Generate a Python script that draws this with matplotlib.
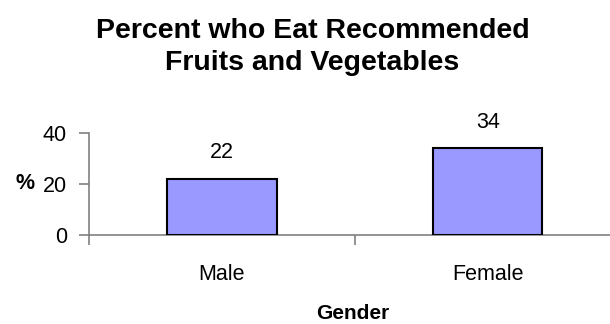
import matplotlib.pyplot as plt

# Datos
generos = ['Male', 'Female']
porcentajes = [22, 34]
yticks = [0, 20, 40]

plt.rcParams['font.family'] = ['Liberation Sans', 'DejaVu Sans']

fig = plt.figure(figsize=(6.1, 3.24), dpi=100)
ax = fig.add_axes([0.1459, 0.2762, 0.872, 0.3133])

x = range(len(generos))
ax.bar(x, porcentajes, width=0.41, color='#9999ff', edgecolor='black', linewidth=1.5, zorder=3)

# Etiquetas de valor sobre cada barra
for xi, v in zip(x, porcentajes):
    ax.text(xi, v + 10.3, str(v), ha='center', va='center', fontsize=15.5)

ax.set_xlim(-0.5, 1.5)
ax.set_ylim(0, 40)
ax.set_yticks(yticks)
ax.set_xticks(list(x))
ax.set_xticklabels(generos, fontsize=15.5)
ax.set_xticks([-0.5, 0.5, 1.5], minor=True)
ax.tick_params(axis='x', which='major', length=0, pad=21)
ax.tick_params(axis='x', which='minor', length=7, width=1.2, color='#808080', direction='out')
ax.tick_params(axis='y', length=7, width=1.2, color='#808080', labelsize=15.5, pad=9)

for lado in ['top', 'right']:
    ax.spines[lado].set_visible(False)
for lado in ['left', 'bottom']:
    ax.spines[lado].set_color('#808080')
    ax.spines[lado].set_linewidth(1.2)

ax.set_ylabel('%', rotation=0, fontsize=15.5, fontweight='bold', va='center', ha='center')
ax.yaxis.set_label_coords(-0.12, 0.5)
ax.set_xlabel('Gender', fontsize=15, fontweight='bold', va='center')
ax.xaxis.set_label_coords(0.496, -0.778)

fig.text(0.512, 0.855, 'Percent who Eat Recommended\nFruits and Vegetables',
         ha='center', va='center', fontsize=20.5, fontweight='bold', linespacing=1.3)

fig.savefig('out.png', dpi=100)
